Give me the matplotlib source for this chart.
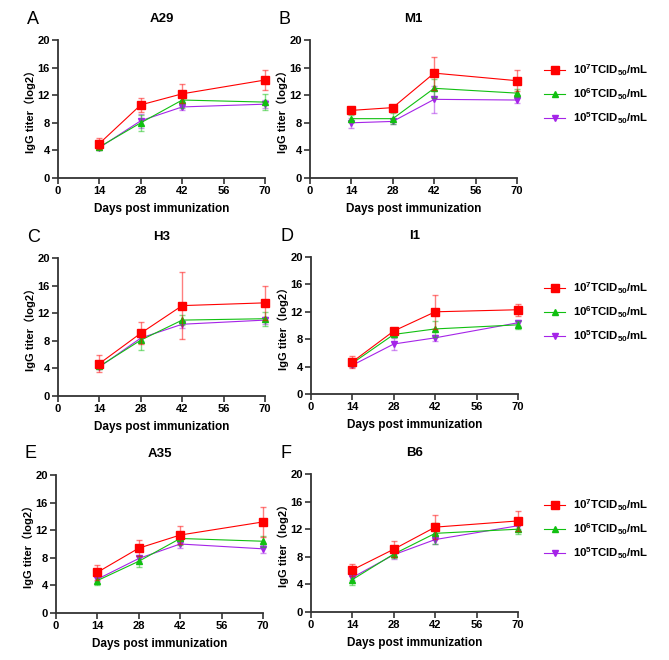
import matplotlib
matplotlib.use("Agg")
import matplotlib.pyplot as plt
from matplotlib.lines import Line2D
from matplotlib.colors import to_rgba

plt.rcParams['font.family'] = ['Liberation Sans', 'Noto Sans CJK SC', 'DejaVu Sans']
plt.rcParams['mathtext.fontset'] = 'custom'
plt.rcParams['mathtext.rm'] = 'Liberation Sans:bold'
plt.rcParams['mathtext.it'] = 'Liberation Sans:bold'
plt.rcParams['mathtext.bf'] = 'Liberation Sans:bold'

days = [14, 28, 42, 70]
letters = ['A', 'B', 'C', 'D', 'E', 'F']
titles = ['A29', 'M1', 'H3', 'I1', 'A35', 'B6']
doses = ['10$^{7}$TCID$_{50}$/mL', '10$^{6}$TCID$_{50}$/mL', '10$^{5}$TCID$_{50}$/mL']

# mean titers per panel: [10^7, 10^6, 10^5]
means = {
    'A29': [[5.0, 10.6, 12.2, 14.2], [4.5, 8.0, 11.3, 11.0], [4.4, 8.3, 10.3, 10.7]],
    'M1':  [[9.8, 10.2, 15.2, 14.1], [8.6, 8.6, 13.0, 12.3], [8.0, 8.2, 11.4, 11.3]],
    'H3':  [[4.7, 9.1, 13.1, 13.5], [4.3, 8.1, 11.0, 11.2], [4.2, 8.4, 10.4, 11.0]],
    'I1':  [[4.7, 9.2, 12.0, 12.3], [4.5, 8.7, 9.5, 10.1], [4.2, 7.3, 8.2, 10.4]],
    'A35': [[5.9, 9.4, 11.3, 13.2], [4.7, 7.5, 10.8, 10.4], [4.9, 7.9, 10.0, 9.3]],
    'B6':  [[6.1, 9.1, 12.3, 13.2], [4.7, 8.4, 11.4, 12.0], [5.0, 8.3, 10.5, 12.5]],
}
sds = {
    'A29': [[0.8, 1.0, 1.4, 1.4], [0.4, 1.2, 1.1, 1.2], [0.4, 1.0, 0.5, 0.6]],
    'M1':  [[0.3, 0.2, 2.4, 1.5], [0.5, 0.8, 1.4, 0.6], [0.7, 0.4, 2.0, 0.4]],
    'H3':  [[1.2, 1.6, 4.8, 2.5], [0.3, 1.4, 0.7, 1.0], [0.3, 0.5, 0.5, 0.5]],
    'I1':  [[0.9, 0.3, 2.5, 0.9], [0.3, 0.4, 1.2, 0.6], [0.3, 0.9, 0.4, 0.4]],
    'A35': [[1.1, 1.2, 1.3, 2.2], [0.6, 0.8, 1.0, 0.8], [0.3, 0.4, 0.6, 0.6]],
    'B6':  [[0.9, 1.2, 1.7, 1.5], [0.8, 0.6, 1.5, 0.7], [0.4, 0.6, 0.6, 0.5]],
}

colors = ['#FF0000', '#11C011', '#A524E8']
markers = ['s', '^', 'v']
msizes = [5.5, 4.8, 4.8]

# axes boxes in pixels: left, top, right, bottom
boxes = [(58, 40, 265, 178), (310, 40, 517, 178),
         (58, 258, 265, 396), (311, 257, 518, 394),
         (56, 475, 263, 613), (311, 474, 518, 612)]
W, H = 669, 660

fig = plt.figure(figsize=(W / 100, H / 100), dpi=100)

for i, name in enumerate(titles):
    l, t, r, b = boxes[i]
    ax = fig.add_axes([l / W, 1 - b / H, (r - l) / W, (b - t) / H])
    for k in range(3):
        ax.errorbar(days, means[name][k], yerr=sds[name][k], color=colors[k],
                    ecolor=to_rgba(colors[k], 0.5), elinewidth=1.0, capsize=2.5,
                    capthick=1.0, lw=0.8, marker=markers[k], ms=msizes[k],
                    zorder=5 - k, clip_on=False)
    ax.set_xlim(0, 70)
    ax.set_ylim(0, 20)
    ax.set_xticks([0, 14, 28, 42, 56, 70])
    ax.set_yticks([0, 4, 8, 12, 16, 20])
    for s in ['top', 'right']:
        ax.spines[s].set_visible(False)
    for s in ['left', 'bottom']:
        ax.spines[s].set_linewidth(1.3)
        ax.spines[s].set_color('#333333')
    ax.tick_params(width=1.2, length=4, color='#333333', labelsize=8, pad=2)
    for lab in ax.get_xticklabels() + ax.get_yticklabels():
        lab.set_fontweight('bold')
    ax.set_xlabel('Days post immunization', fontsize=8.5, fontweight='bold', labelpad=5)
    ax.set_ylabel('IgG titer（log2）', fontsize=8, fontweight='bold', labelpad=1)
    ax.set_title(name, fontsize=9.5, fontweight='bold', pad=13)
    fig.text((l - 31) / W, 1 - (t - 21) / H, letters[i], fontsize=13,
             ha='left', va='center')

handles = [Line2D([], [], color=colors[k], marker=markers[k], ms=msizes[k], lw=0.8)
           for k in range(3)]
for yy in [52, 270, 487]:
    fig.legend(handles, doses, loc='upper left',
               bbox_to_anchor=(534 / W, 1 - yy / H), frameon=False,
               prop={'weight': 'bold', 'size': 8.2}, handlelength=1.8,
               labelspacing=0.75, handletextpad=0.7)

fig.savefig('out.png', dpi=100)
